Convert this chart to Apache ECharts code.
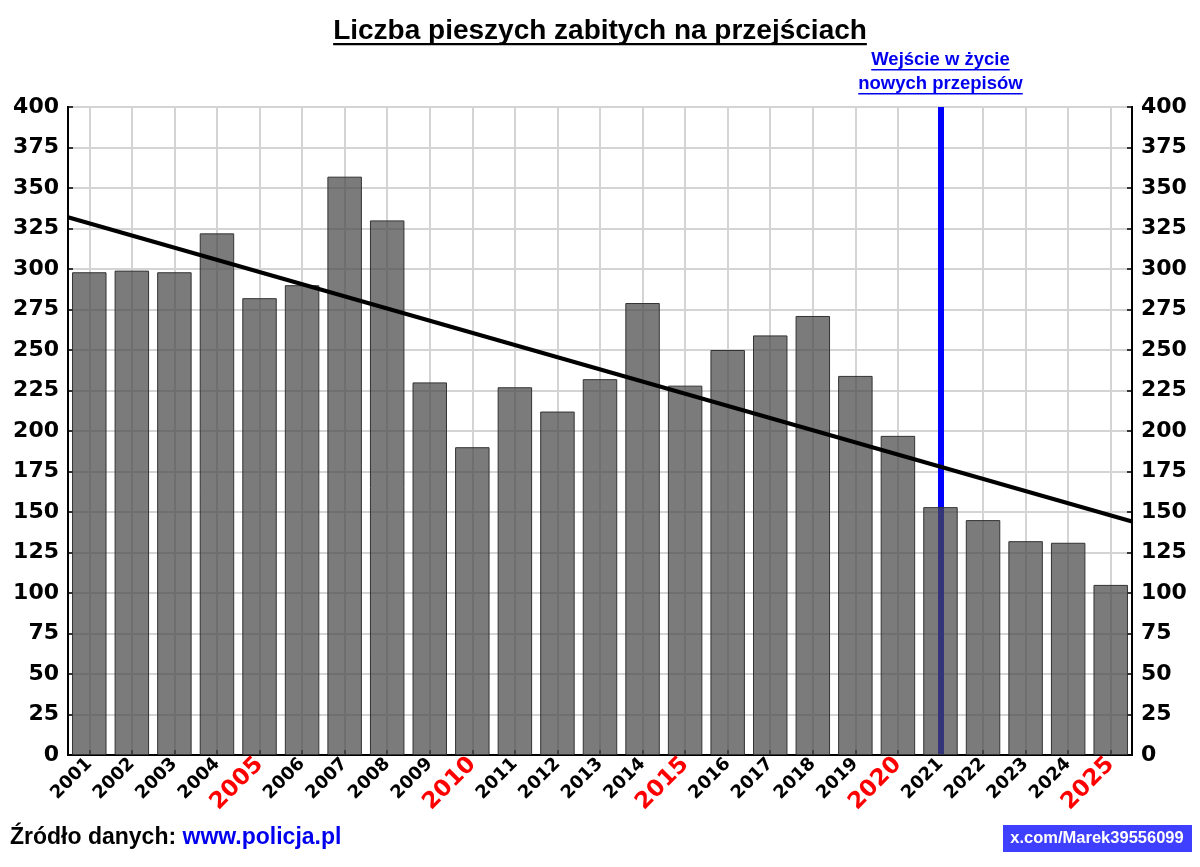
<!DOCTYPE html>
<html><head><meta charset="utf-8">
<script src="https://cdn.jsdelivr.net/npm/echarts@6/dist/echarts.min.js"></script>
<style>html,body{margin:0;padding:0;background:#fff}#c{width:1200px;height:867px}</style>
</head><body><div id="c"></div>
<script>
const years = ['2001','2002','2003','2004','2005','2006','2007','2008','2009','2010','2011','2012','2013','2014','2015','2016','2017','2018','2019','2020','2021','2022','2023','2024','2025'];
const killed = [298,299,298,322,282,290,357,330,230,190,227,212,232,279,228,250,259,271,234,197,153,145,132,131,105];
const yMin = 0, yMax = 400, yStep = 25;
const highlightEvery = 5;
const eventYear = '2021';
const titleText = 'Liczba pieszych zabitych na przejściach';
const eventLabel = ['Wejście w życie', 'nowych przepisów'];
const sourceLabel = 'Źródło danych: ';
const sourceUrl = 'www.policja.pl';
const authorTag = 'x.com/Marek39556099';

const FONT = '"Liberation Sans", Arial, sans-serif';
const AXFONT = '"DejaVu Sans", Verdana, sans-serif';
// linear regression trend
const n = killed.length;
const mx = (n - 1) / 2;
const my = killed.reduce((a, b) => a + b, 0) / n;
let sxy = 0, sxx = 0;
killed.forEach((v, i) => { sxy += (i - mx) * (v - my); sxx += (i - mx) * (i - mx); });
const slope = sxy / sxx;
const icpt = my - slope * mx;
const x0 = -0.5, x1 = n - 0.5;
const trend = [[x0, icpt + slope * x0], [x1, icpt + slope * x1]];

const mctx = document.createElement('canvas').getContext('2d');
function tw(t, size) { mctx.font = 'bold ' + size + 'px "Liberation Sans"'; return mctx.measureText(t).width; }

const chart = echarts.init(document.getElementById('c'), null, { renderer: 'canvas' });
const yAxisCommon = {
  type: 'value', min: yMin, max: yMax, interval: yStep,
  axisLine: { show: true, onZero: false, lineStyle: { color: '#000', width: 2 } },
  axisTick: { show: true, inside: true, length: 5, lineStyle: { color: '#000', width: 1.5 } },
  axisLabel: { color: '#000', fontSize: 22, fontWeight: 'bold', fontFamily: AXFONT, margin: 9 }
};
chart.setOption({
  animation: false,
  backgroundColor: '#fff',
  grid: { left: 68, right: 68, top: 107, bottom: 112, show: true, borderColor: '#000', borderWidth: 2, backgroundColor: '#fff' },
  xAxis: [{
    type: 'category', data: years,
    axisLine: { show: true, onZero: false, lineStyle: { color: '#000', width: 2 } },
    axisTick: { show: true, inside: true, alignWithLabel: true, length: 5, lineStyle: { color: '#000', width: 1.5 } },
    splitLine: { show: true, alignWithLabel: true, lineStyle: { color: '#d4d4d4', width: 2 } },
    axisLabel: {
      interval: 0, rotate: 45, margin: 6,
      formatter: v => (parseInt(v) % highlightEvery === 0 ? '{r|' + v + '}' : '{n|' + v + '}'),
      rich: {
        n: { color: '#000', fontSize: 18, fontWeight: 'bold', fontFamily: AXFONT },
        r: { color: '#ff0000', fontSize: 23, fontWeight: 'bold', fontFamily: AXFONT }
      }
    }
  }, {
    type: 'value', min: x0, max: x1, show: false, splitLine: { show: false }
  }],
  yAxis: [
    Object.assign({}, yAxisCommon, { position: 'left', splitLine: { show: true, lineStyle: { color: '#d4d4d4', width: 2 } } }),
    Object.assign({}, yAxisCommon, { position: 'right', splitLine: { show: false } })
  ],
  series: [{
    type: 'line', data: [], z: 1, silent: true,
    markLine: {
      z: 1, symbol: 'none', silent: true, animation: false,
      label: { show: false },
      lineStyle: { color: '#0000ff', width: 6, type: 'solid' },
      data: [{ xAxis: eventYear }]
    }
  }, {
    type: 'bar', data: killed, z: 3, barCategoryGap: '19%',
    itemStyle: { color: 'rgba(72,72,72,0.72)', borderColor: '#333', borderWidth: 1 }
  }, {
    type: 'line', xAxisIndex: 1, data: trend, z: 5, symbol: 'none',
    lineStyle: { color: '#000', width: 4 }
  }]
});

const ex = chart.convertToPixel({ xAxisIndex: 0 }, eventYear);
const tSize = 28, eSize = 18.5, fSize = 23, aSize = 16.5;
const tW = tw(titleText, tSize);
const g = [
  { type: 'text', style: { text: titleText, x: 600, y: 31, textAlign: 'center', textVerticalAlign: 'middle', fontSize: tSize, fontWeight: 'bold', fontFamily: FONT, fill: '#000' } },
  { type: 'rect', shape: { x: 600 - tW / 2, y: 43, width: tW, height: 2.2 }, style: { fill: '#000' } }
];
eventLabel.forEach((t, i) => {
  const y = 60 + i * 24;
  const w = tw(t, eSize);
  g.push({ type: 'text', style: { text: t, x: ex, y: y, textAlign: 'center', textVerticalAlign: 'middle', fontSize: eSize, fontWeight: 'bold', fontFamily: FONT, fill: '#0000ee' } });
  g.push({ type: 'rect', shape: { x: ex - w / 2, y: y + 9, width: w, height: 1.6 }, style: { fill: '#0000ee' } });
});
g.push({ type: 'text', style: { text: '{a|' + sourceLabel + '}{b|' + sourceUrl + '}', x: 10, y: 838, textVerticalAlign: 'middle',
  rich: { a: { fontSize: fSize, fontWeight: 'bold', fontFamily: FONT, fill: '#000', color: '#000' }, b: { fontSize: fSize, fontWeight: 'bold', fontFamily: FONT, fill: '#0000ee', color: '#0000ee' } } } });
g.push({ type: 'rect', shape: { x: 1003, y: 825, width: 189, height: 27 }, style: { fill: '#3f3fff' } });
g.push({ type: 'text', style: { text: authorTag, x: 1097, y: 838.5, textAlign: 'center', textVerticalAlign: 'middle', fontSize: aSize, fontWeight: 'bold', fontFamily: FONT, fill: '#fff' } });
chart.setOption({ graphic: g });
</script></body></html>
